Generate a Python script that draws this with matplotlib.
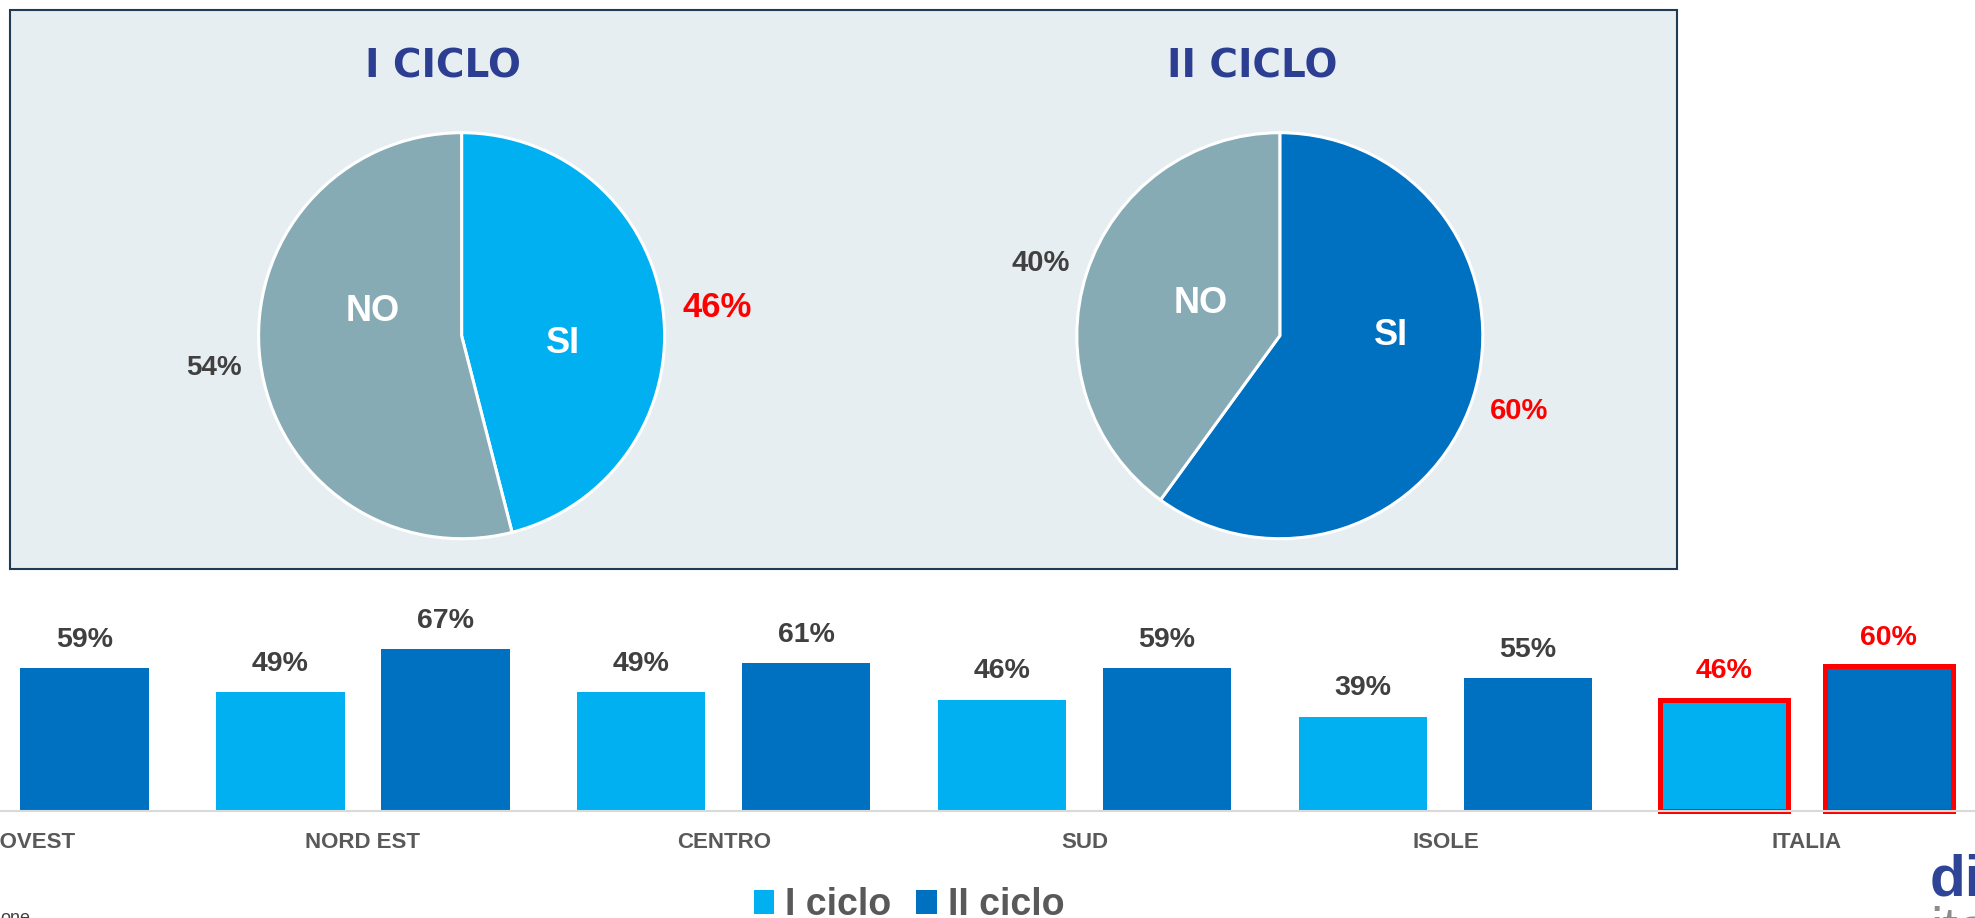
import matplotlib
matplotlib.use("Agg")
import matplotlib.pyplot as plt
from matplotlib.patches import Rectangle
import numpy as np

# pie data (share of "SI" / "NO")
pie_titles = ["I CICLO", "II CICLO"]
pie_labels = ["SI", "NO"]
pie_values = [[46, 54], [60, 40]]

# bar data by area
areas = ["NORD OVEST", "NORD EST", "CENTRO", "SUD", "ISOLE", "ITALIA"]
ciclo1 = [np.nan, 49, 49, 46, 39, 46]   # NORD OVEST I ciclo is cut off in the source
ciclo2 = [59, 67, 61, 59, 55, 60]

c_light = "#00B0F0"
c_dark = "#0070C0"
c_no = "#86ABB5"
c_title = "#2B3E91"
c_txt = "#404040"
c_tick = "#595959"

plt.rcParams["font.family"] = ["Liberation Sans", "DejaVu Sans"]

W, H = 1975, 918
fig = plt.figure(figsize=(W / 100, H / 100), dpi=100)

# light panel behind the pies
fig.patches.append(Rectangle((10 / W, 1 - 569 / H), (1677 - 10) / W, (569 - 10) / H,
                             transform=fig.transFigure, facecolor="#E7EEF2",
                             edgecolor="#1F3A55", lw=1.5, zorder=-5))

# pies
centers = [(461.6, 335.7), (1279.8, 335.7)]
r = 203.0
half = 330.0
si_colors = [c_light, c_dark]
# label positions (in pie radius units): inner NO, inner SI, outer SI pct, outer NO pct
inner_no = [(-0.44, 0.12), (-0.39, 0.16)]
inner_si = [(0.50, -0.04), (0.55, 0.0)]
pct_si = [(1.26, 0.14), (1.18, -0.37)]
pct_no = [(-1.22, -0.16), (-1.18, 0.36)]
pct_si_size = [25, 21]
pct_no_size = [20, 21]

for i in range(2):
    cx, cy = centers[i]
    ax = fig.add_axes([(cx - half) / W, 1 - (cy + half) / H, 2 * half / W, 2 * half / H])
    ax.pie(pie_values[i], colors=[si_colors[i], c_no], startangle=90, counterclock=False,
           radius=1.0, wedgeprops=dict(edgecolor="white", linewidth=2.2))
    lim = half / r
    ax.set_xlim(-lim, lim)
    ax.set_ylim(-lim, lim)
    ax.set_aspect("equal")
    ax.axis("off")
    ax.text(*inner_no[i], pie_labels[1], color="white", fontsize=26, fontweight="bold",
            ha="center", va="center")
    ax.text(*inner_si[i], pie_labels[0], color="white", fontsize=26, fontweight="bold",
            ha="center", va="center")
    ax.text(*pct_si[i], f"{pie_values[i][0]}%", color="red", fontsize=pct_si_size[i],
            fontweight="bold", ha="center", va="center")
    ax.text(*pct_no[i], f"{pie_values[i][1]}%", color=c_txt, fontsize=pct_no_size[i],
            fontweight="bold", ha="center", va="center")

title_x = [443, 1252]
for i in range(2):
    fig.text(title_x[i] / W, 1 - 67 / H, pie_titles[i], color=c_title, fontsize=28,
             fontweight="bold", family="DejaVu Sans", ha="center", va="center")

# bar chart, stretched past the figure edges like the source slide
base_y = 811
px_per_unit = 2.42
ymax = 80
pitch = 360.9
left_px = 1.9 - pitch / 2
axb = fig.add_axes([left_px / W, 1 - base_y / H, 6 * pitch / W, ymax * px_per_unit / H])
axb.patch.set_alpha(0)
x = np.arange(len(areas))
off = 0.2286
bw = 0.356
b1 = axb.bar(x - off, ciclo1, bw, color=c_light, label="I ciclo", zorder=2)
b2 = axb.bar(x + off, ciclo2, bw, color=c_dark, label="II ciclo", zorder=2)

# highlight ITALIA
for b in (b1[-1], b2[-1]):
    b.set_edgecolor("red")
    b.set_linewidth(3.6)
    b.set_clip_on(False)

for bars, vals in ((b1, ciclo1), (b2, ciclo2)):
    for j, (b, v) in enumerate(zip(bars, vals)):
        if np.isnan(v):
            continue
        col = "red" if areas[j] == "ITALIA" else c_txt
        axb.annotate(f"{v:.0f}%", (b.get_x() + b.get_width() / 2, v),
                     xytext=(0, 11), textcoords="offset points", ha="center", va="bottom",
                     fontsize=20.5, fontweight="bold", color=col)

axb.set_xlim(-0.5, 5.5)
axb.set_ylim(0, ymax)
axb.set_xticks(x)
axb.set_xticklabels(areas, fontsize=16, fontweight="bold", color=c_tick)
axb.tick_params(axis="x", length=0, pad=15)
axb.set_yticks([])
for s in ("top", "right", "left"):
    axb.spines[s].set_visible(False)
axb.spines["bottom"].set_color("#D9D9D9")
axb.spines["bottom"].set_linewidth(1.5)
axb.spines["bottom"].set_zorder(3)

leg = fig.legend([b1[1], b2[1]], ["I ciclo", "II ciclo"], loc="center",
                 bbox_to_anchor=(909 / W, 1 - 905 / H), ncol=2, frameon=False,
                 prop=dict(size=27, weight="bold"), handlelength=0.55, handleheight=0.6,
                 handletextpad=0.3, columnspacing=0.65, borderpad=0)
for t in leg.get_texts():
    t.set_color(c_tick)

# logo fragments and source note cut by the slide edge
fig.text(1930 / W, 1 - 896 / H, "di", color="#2E4496", fontsize=42, fontweight="bold",
         ha="left", va="baseline")
fig.text(1930 / W, 1 - 905 / H, "ita", color="#8C8C8C", fontsize=40,
         ha="left", va="top")
fig.text(0.0, 1 - 910 / H, "one", color=c_txt, fontsize=13, ha="left", va="top")

fig.savefig("out.png", dpi=100)
